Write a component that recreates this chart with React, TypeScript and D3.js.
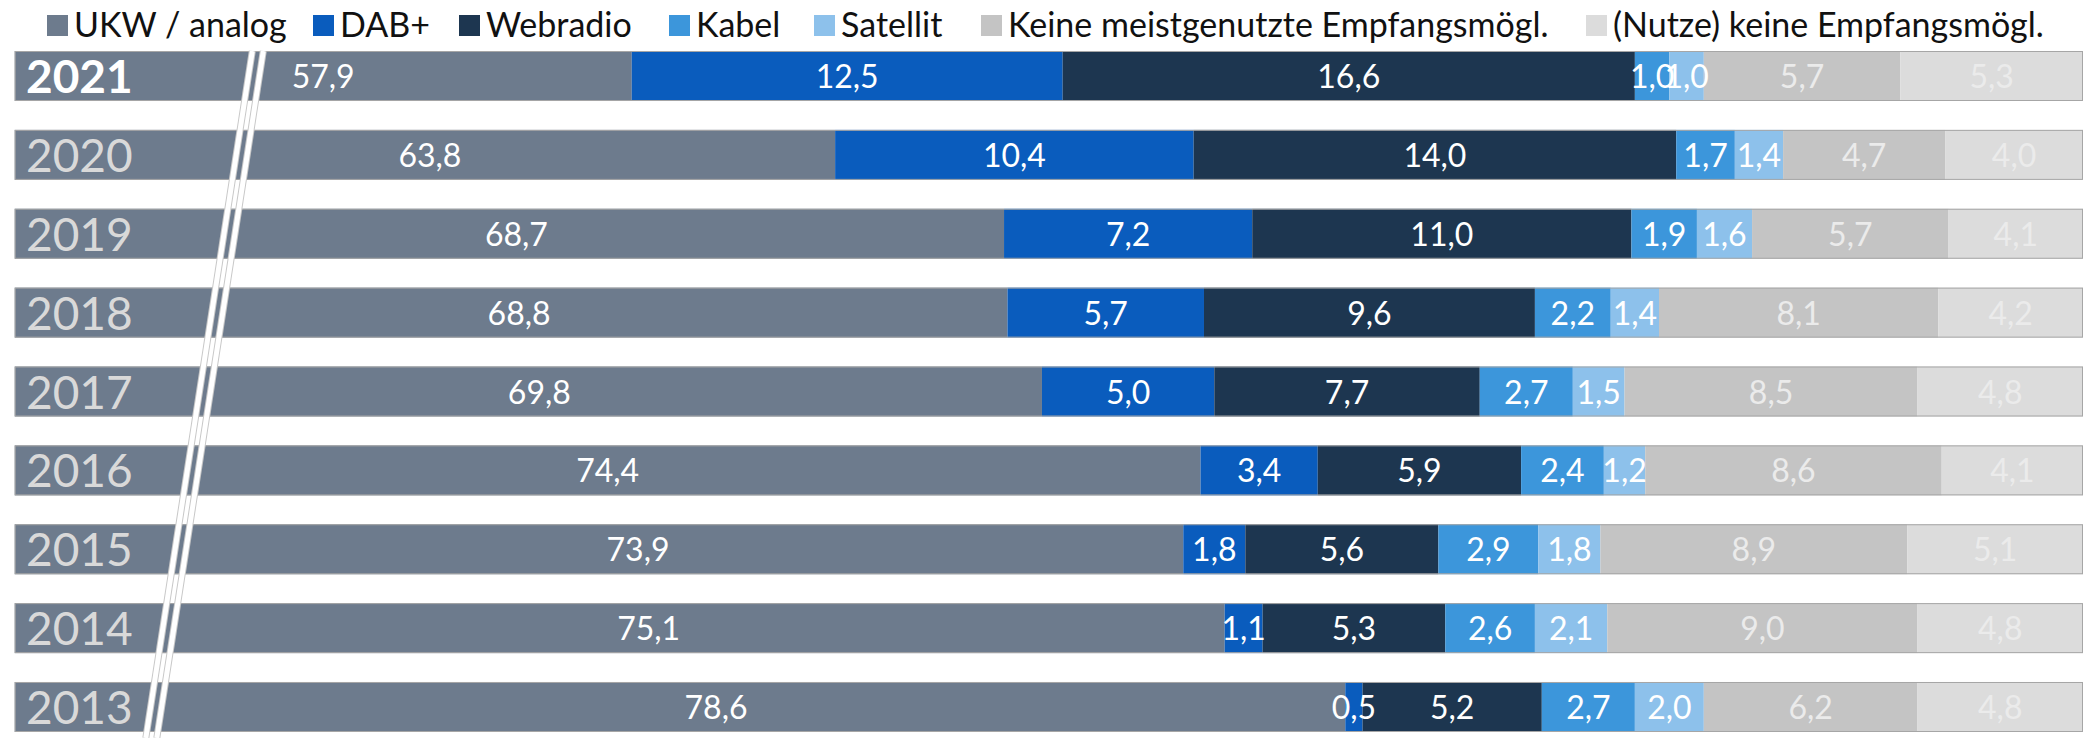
import React from 'react';
import * as d3 from 'd3';

const years = ['2021', '2020', '2019', '2018', '2017', '2016', '2015', '2014', '2013'];
const seriesNames = [
  'UKW / analog',
  'DAB+',
  'Webradio',
  'Kabel',
  'Satellit',
  'Keine meistgenutzte Empfangsmögl.',
  '(Nutze) keine Empfangsmögl.',
];
const ukw = [57.9, 63.8, 68.7, 68.8, 69.8, 74.4, 73.9, 75.1, 78.6];
const dab = [12.5, 10.4, 7.2, 5.7, 5.0, 3.4, 1.8, 1.1, 0.5];
const webradio = [16.6, 14.0, 11.0, 9.6, 7.7, 5.9, 5.6, 5.3, 5.2];
const kabel = [1.0, 1.7, 1.9, 2.2, 2.7, 2.4, 2.9, 2.6, 2.7];
const satellit = [1.0, 1.4, 1.6, 1.4, 1.5, 1.2, 1.8, 2.1, 2.0];
const keineMeist = [5.7, 4.7, 5.7, 8.1, 8.5, 8.6, 8.9, 9.0, 6.2];
const keineEmpf = [5.3, 4.0, 4.1, 4.2, 4.8, 4.1, 5.1, 4.8, 4.8];

// manual nudges of the UKW data labels (as in the original chart), in px
const ukwLabelShift = [0, 5, 7, 8, 11, 0, 39, 29, 36];

const seriesValues = [ukw, dab, webradio, kabel, satellit, keineMeist, keineEmpf];
const colors = ['#6D7B8D', '#0A5CBD', '#1D3650', '#3C96DB', '#8DC1EB', '#C4C4C4', '#DCDCDC'];
const labelColors = ['#FFFFFF', '#FFFFFF', '#FFFFFF', '#FFFFFF', '#FFFFFF', '#EBEBEB', '#EBEBEB'];
const axisBreakStart = 40; // axis starts at 40 (truncated)
const axisMax = 100;

const W = 2086;
const H = 738;
const FONT = 'Lato, "Open Sans", sans-serif';

const legendX = [47, 313, 459, 669, 814, 981, 1586];

export default function App() {
  const keys = seriesNames;
  const table = years.map((y, i) => {
    const row: any = { year: y };
    keys.forEach((k, j) => (row[k] = seriesValues[j][i]));
    return row;
  });
  const stacked = d3.stack<any>().keys(keys)(table);

  const x = d3.scaleLinear().domain([axisBreakStart, axisMax]).range([14.7, 2083]).clamp(true);
  const y = d3.scaleBand<string>().domain(years).range([51, 732]).paddingInner(0.366).paddingOuter(0);
  const bw = y.bandwidth();

  const fmt = (v: number) => v.toFixed(1).replace('.', ',');

  const slope = -0.155;
  const bx0 = 257.8;
  const by0 = 51;
  const by1 = H;
  const breakOffsets = [-5.5, 5.5];

  return (
    <div style={{ position: 'absolute', left: 0, top: 0 }}>
      <svg width={W} height={H} style={{ display: 'block', background: '#fff' }} fontFamily={FONT}>
        {/* Legend */}
        {seriesNames.map((name, i) => (
          <g key={name}>
            <rect x={legendX[i]} y={15} width={21} height={21} fill={colors[i]} />
            <text x={legendX[i] + 27} y={37} fontSize={34} fill="#111">
              {name}
            </text>
          </g>
        ))}

        {/* Bars */}
        {stacked.map((s, si) => (
          <g key={s.key} fill={colors[si]}>
            {s.map((d, i) => {
              const x0 = x(d[0]);
              const x1 = x(d[1]);
              return <rect key={i} x={x0} y={y(years[i])} width={Math.max(0, x1 - x0)} height={bw} />;
            })}
          </g>
        ))}

        {/* Bar outlines */}
        {years.map((yr, i) => {
          const total = stacked[stacked.length - 1][i][1];
          return (
            <rect
              key={yr}
              x={x(axisBreakStart) + 0.5}
              y={(y(yr) as number) + 0.5}
              width={x(total) - x(axisBreakStart) - 1}
              height={bw - 1}
              fill="none"
              stroke="#A6A6A6"
              strokeWidth={1}
            />
          );
        })}

        {/* Axis break */}
        {breakOffsets.map((o, i) => (
          <g key={i}>
            <line
              x1={bx0 + o}
              y1={by0}
              x2={bx0 + o + slope * (by1 - by0)}
              y2={by1}
              stroke="#C8C8C8"
              strokeWidth={7}
            />
            <line
              x1={bx0 + o}
              y1={by0}
              x2={bx0 + o + slope * (by1 - by0)}
              y2={by1}
              stroke="#FFFFFF"
              strokeWidth={5}
            />
          </g>
        ))}

        {/* Year labels */}
        {years.map((yr, i) => (
          <text
            key={yr}
            x={26}
            y={(y(yr) as number) + bw / 2 + 17}
            fontSize={46}
            fontWeight={i === 0 ? 700 : 400}
            fill={i === 0 ? '#FFFFFF' : '#D9D9D9'}
          >
            {yr}
          </text>
        ))}

        {/* Value labels */}
        {stacked.map((s, si) => (
          <g key={s.key}>
            {s.map((d, i) => {
              const x0 = x(d[0]);
              const x1 = x(d[1]);
              const shift = si === 0 ? ukwLabelShift[i] : 0;
              return (
                <text
                  key={i}
                  x={(x0 + x1) / 2 + shift}
                  y={(y(years[i]) as number) + bw / 2 + 12}
                  fontSize={32}
                  textAnchor="middle"
                  fill={labelColors[si]}
                >
                  {fmt(seriesValues[si][i])}
                </text>
              );
            })}
          </g>
        ))}
      </svg>
    </div>
  );
}
